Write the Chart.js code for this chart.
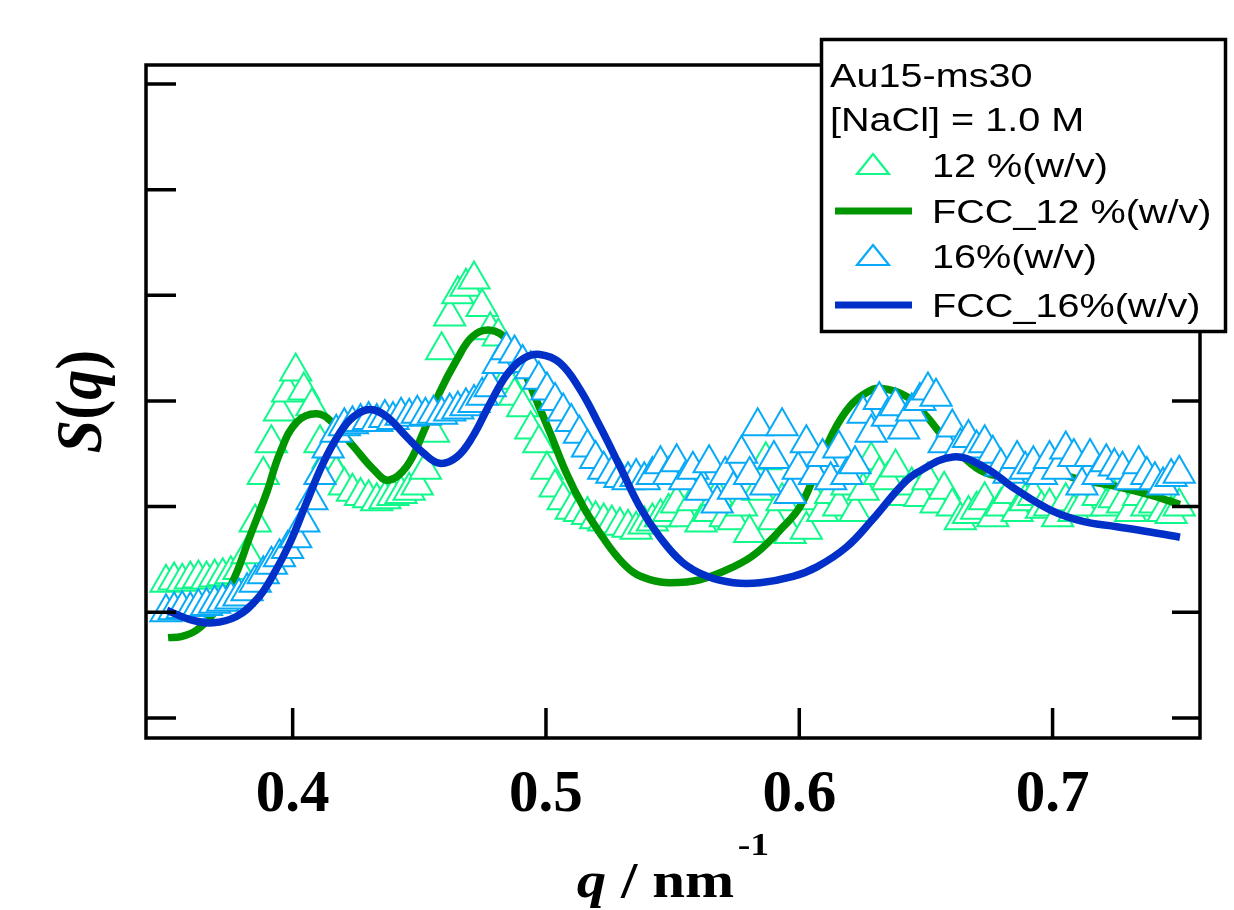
<!DOCTYPE html>
<html lang="en">
<head>
<meta charset="UTF-8" />
<title>S(q) Au15-ms30</title>
<script src="https://cdn.jsdelivr.net/npm/chart.js"></script>
<style>
  html, body { margin: 0; padding: 0; background: #fff; }
  canvas { display: block; }
</style>
</head>
<body>
<canvas id="sqChart" width="1234" height="910"></canvas>
<script>
// measured q grid (nm^-1), shared by both samples
const qVals = [
  0.3500, 0.3532, 0.3564, 0.3596, 0.3628, 0.3660, 0.3692, 0.3724, 0.3756, 0.3788,
  0.3820, 0.3852, 0.3884, 0.3916, 0.3948, 0.3980, 0.4012, 0.4044, 0.4076, 0.4108,
  0.4140, 0.4172, 0.4204, 0.4236, 0.4268, 0.4300, 0.4332, 0.4364, 0.4396, 0.4428,
  0.4460, 0.4492, 0.4524, 0.4556, 0.4588, 0.4620, 0.4652, 0.4684, 0.4716, 0.4748,
  0.4780, 0.4812, 0.4844, 0.4876, 0.4908, 0.4940, 0.4972, 0.5004, 0.5036, 0.5068,
  0.5100, 0.5132, 0.5164, 0.5196, 0.5228, 0.5260, 0.5292, 0.5324, 0.5356, 0.5388,
  0.5420, 0.5452, 0.5484, 0.5516, 0.5548, 0.5580, 0.5612, 0.5644, 0.5676, 0.5708,
  0.5740, 0.5772, 0.5804, 0.5836, 0.5868, 0.5900, 0.5932, 0.5964, 0.5996, 0.6028,
  0.6060, 0.6092, 0.6124, 0.6156, 0.6188, 0.6220, 0.6252, 0.6284, 0.6316, 0.6348,
  0.6380, 0.6412, 0.6444, 0.6476, 0.6508, 0.6540, 0.6572, 0.6604, 0.6636, 0.6668,
  0.6700, 0.6732, 0.6764, 0.6796, 0.6828, 0.6860, 0.6892, 0.6924, 0.6956, 0.6988,
  0.7020, 0.7052, 0.7084, 0.7116, 0.7148, 0.7180, 0.7212, 0.7244, 0.7276, 0.7308,
  0.7340, 0.7372, 0.7404, 0.7436, 0.7468, 0.7500
];

// S(q), 12 %(w/v)
const s12 = [
  1.28, 1.30, 1.29, 1.31, 1.32, 1.31, 1.33, 1.34, 1.36, 1.40,
  1.55, 1.85, 2.30, 2.60, 2.90, 3.08, 3.28, 3.10, 2.95, 2.60,
  2.45, 2.31, 2.20, 2.14, 2.10, 2.08, 2.05, 2.07, 2.10, 2.12,
  2.15, 2.20, 2.35, 2.70, 3.48, 3.80, 4.01, 4.08, 4.15, 3.89,
  3.67, 3.61, 3.20, 3.05, 2.94, 2.73, 2.60, 2.35, 2.18, 2.06,
  1.97, 1.95, 1.92, 1.88, 1.86, 1.84, 1.82, 1.80, 1.78, 1.83,
  1.86, 1.90, 1.95, 2.03, 1.90, 2.05, 1.85, 1.95, 2.10, 1.90,
  1.87, 2.00, 1.75, 2.15, 2.44, 1.87, 2.05, 1.74, 2.20, 1.78,
  2.06, 1.95, 2.12, 2.00, 2.20, 1.95, 2.15, 2.44, 2.30, 2.25,
  2.37, 2.10, 2.20, 2.09, 2.25, 2.03, 2.16, 2.00, 1.87, 1.93,
  1.97, 2.06, 1.90, 2.00, 2.12, 1.95, 2.05, 2.10, 1.98, 2.00,
  1.90, 2.05, 1.95, 2.00, 2.31, 2.10, 2.00, 2.08, 2.03, 1.95,
  2.10, 2.00, 2.03, 1.95, 1.93, 2.00
];

// S(q), 16 %(w/v)
const s16 = [
  1.00, 1.02, 1.03, 1.02, 1.05, 1.06, 1.08, 1.10, 1.12, 1.15,
  1.20, 1.28, 1.36, 1.45, 1.52, 1.60, 1.70, 1.85, 2.06, 2.30,
  2.55, 2.70, 2.76, 2.78, 2.80, 2.82, 2.80, 2.84, 2.82, 2.86,
  2.85, 2.88, 2.86, 2.88, 2.87, 2.90, 2.92, 2.95, 2.98, 3.05,
  3.13, 3.35, 3.48, 3.45, 3.36, 3.30, 3.20, 3.10, 3.00, 2.90,
  2.80, 2.69, 2.56, 2.45, 2.35, 2.31, 2.27, 2.25, 2.28, 2.25,
  2.30, 2.40, 2.30, 2.42, 2.25, 2.35, 2.15, 2.41, 2.03, 2.30,
  2.16, 2.50, 2.30, 2.76, 2.20, 2.45, 2.76, 2.12, 2.35, 2.60,
  2.30, 2.47, 2.25, 2.55, 2.30, 2.40, 2.88, 2.70, 3.01, 2.85,
  2.95, 2.73, 2.90, 3.00, 3.10, 3.04, 2.60, 2.75, 2.57, 2.65,
  2.55, 2.60, 2.50, 2.38, 2.31, 2.45, 2.35, 2.40, 2.30, 2.45,
  2.35, 2.54, 2.47, 2.20, 2.47, 2.30, 2.42, 2.38, 2.35, 2.25,
  2.40, 2.30, 2.25, 2.20, 2.28, 2.31
];

// FCC model curves
const fcc12Q = [0.3508, 0.3560, 0.3620, 0.3685, 0.3740, 0.3778, 0.3830, 0.3897, 0.3950, 0.4016,
                0.4095, 0.4160, 0.4240, 0.4320, 0.4377, 0.4450, 0.4515, 0.4580, 0.4648, 0.4710,
                0.4780, 0.4846, 0.4910, 0.4960, 0.5016, 0.5080, 0.5147, 0.5213, 0.5280, 0.5344,
                0.5410, 0.5490, 0.5610, 0.5740, 0.5830, 0.5937, 0.6003, 0.6070, 0.6133, 0.6200,
                0.6266, 0.6320, 0.6425, 0.6504, 0.6568, 0.6647, 0.6726, 0.6830, 0.6990, 0.7120,
                0.7254, 0.7385, 0.7503];
const fcc12S = [0.76, 0.77, 0.83, 0.98, 1.18, 1.37, 1.71, 2.13, 2.51, 2.80,
                2.88, 2.79, 2.57, 2.35, 2.25, 2.38, 2.70, 3.08, 3.39, 3.61,
                3.67, 3.58, 3.30, 3.02, 2.70, 2.32, 2.00, 1.75, 1.53, 1.38,
                1.31, 1.28, 1.31, 1.43, 1.56, 1.81, 2.00, 2.35, 2.70, 2.95,
                3.08, 3.12, 3.04, 2.85, 2.66, 2.47, 2.33, 2.28, 2.32, 2.25,
                2.19, 2.11, 2.02];

const fcc16Q = [0.3503, 0.3595, 0.3685, 0.3778, 0.3858, 0.3920, 0.3990, 0.4055, 0.4120, 0.4187,
                0.4240, 0.4305, 0.4372, 0.4450, 0.4515, 0.4580, 0.4648, 0.4710, 0.4780, 0.4846,
                0.4910, 0.4976, 0.5055, 0.5134, 0.5213, 0.5292, 0.5370, 0.5450, 0.5540, 0.5636,
                0.5740, 0.5845, 0.5976, 0.6070, 0.6188, 0.6290, 0.6400, 0.6464, 0.6607, 0.6726,
                0.6857, 0.6990, 0.7120, 0.7254, 0.7385, 0.7503];
const fcc16S = [1.02, 0.93, 0.90, 0.96, 1.12, 1.34, 1.66, 2.04, 2.41, 2.70,
                2.85, 2.92, 2.85, 2.66, 2.51, 2.41, 2.47, 2.66, 2.98, 3.25,
                3.40, 3.44, 3.36, 3.11, 2.76, 2.38, 2.00, 1.71, 1.47, 1.34,
                1.28, 1.28, 1.34, 1.43, 1.62, 1.88, 2.19, 2.32, 2.47, 2.38,
                2.16, 1.97, 1.86, 1.81, 1.76, 1.71];

const xTickVals = [0.4, 0.5, 0.6, 0.7];
const yTickVals = [0, 1, 2, 3, 4, 5, 6];
const legendHeader = ['Au15-ms30', '[NaCl] = 1.0 M'];
const seriesNames = ['12 %(w/v)', 'FCC_12 %(w/v)', '16%(w/v)', 'FCC_16%(w/v)'];

const col12 = '#10f88a';
const colFcc12 = '#009600';
const col16 = '#08aaf8';
const colFcc16 = '#0030c8';

const toPts = (xs, ys) => xs.map((x, i) => ({ x: x, y: ys[i] }));

// helpers for mixed-font text (horizontal stretch sx)
function runsWidth(ctx, runs) {
  let w = 0;
  runs.forEach(r => { ctx.font = r.font; w += ctx.measureText(r.text).width + (r.gap || 0); });
  return w;
}
function drawRuns(ctx, runs, x, y, sx) {
  ctx.save();
  ctx.translate(x, y);
  ctx.scale(sx, 1);
  let cx = 0;
  runs.forEach(r => {
    ctx.font = r.font;
    cx += (r.gap || 0);
    ctx.fillText(r.text, cx, r.dy || 0);
    cx += ctx.measureText(r.text).width;
  });
  ctx.restore();
}

const framePlugin = {
  id: 'frame',
  afterDatasetsDraw(chart) {
    const ctx = chart.ctx;
    const a = chart.chartArea;
    const xs = chart.scales.x, ys = chart.scales.y;
    ctx.save();
    ctx.strokeStyle = '#000';
    ctx.lineWidth = 3.5;
    ctx.strokeRect(a.left, a.top, a.right - a.left, a.bottom - a.top);
    ctx.beginPath();
    yTickVals.forEach(v => {
      const py = ys.getPixelForValue(v);
      ctx.moveTo(a.left, py); ctx.lineTo(a.left + 30, py);
      ctx.moveTo(a.right, py); ctx.lineTo(a.right - 28, py);
    });
    xTickVals.forEach(v => {
      const px = xs.getPixelForValue(v);
      ctx.moveTo(px, a.bottom); ctx.lineTo(px, a.bottom - 30);
    });
    ctx.stroke();
    ctx.restore();
  },
  afterDraw(chart) {
    const ctx = chart.ctx;
    const a = chart.chartArea;
    ctx.save();
    ctx.fillStyle = '#000';
    ctx.textBaseline = 'alphabetic';

    // x title: q / nm^-1
    const serif = '"Liberation Serif", "Times New Roman", serif';
    const xRuns = [
      { text: 'q', font: 'italic bold 50px ' + serif },
      { text: ' / nm', font: 'bold 50px ' + serif },
      { text: '-1', font: 'bold 32px ' + serif, dy: -42, gap: 3 }
    ];
    const sx = 1.18;
    const xw = runsWidth(ctx, xRuns) * sx;
    drawRuns(ctx, xRuns, (a.left + a.right) / 2 - xw / 2, 897, sx);

    // y title: S(q), rotated
    const yRuns = [
      { text: 'S', font: 'italic bold 60px ' + serif },
      { text: '(', font: 'bold 60px ' + serif },
      { text: 'q', font: 'italic bold 60px ' + serif },
      { text: ')', font: 'bold 60px ' + serif }
    ];
    const yw = runsWidth(ctx, yRuns);
    ctx.save();
    ctx.translate(101, (a.top + a.bottom) / 2);
    ctx.rotate(-Math.PI / 2);
    ctx.scale(1, 1.1);
    drawRuns(ctx, yRuns, -yw / 2, 0, 1);
    ctx.restore();

    // legend box
    const bx = 821.5, by = 39.5, bw = 404, bh = 292;
    ctx.fillStyle = '#fff';
    ctx.fillRect(bx, by, bw, bh);
    ctx.strokeStyle = '#000';
    ctx.lineWidth = 3.5;
    ctx.strokeRect(bx, by, bw, bh);

    ctx.fillStyle = '#000';
    const sans = '33px "Liberation Sans", Arial, sans-serif';
    drawRuns(ctx, [{ text: legendHeader[0], font: sans }], 830, 87, 1.2);
    drawRuns(ctx, [{ text: legendHeader[1], font: sans }], 830, 131, 1.2);
    const rowBase = [177, 223, 268, 317];
    const rowKinds = ['tri', 'line', 'tri', 'line'];
    const rowCols = [col12, colFcc12, col16, colFcc16];
    seriesNames.forEach((name, i) => {
      const base = rowBase[i];
      const midY = base - 12;
      if (rowKinds[i] === 'tri') {
        ctx.beginPath();
        ctx.moveTo(873, midY - 11);
        ctx.lineTo(889, midY + 9);
        ctx.lineTo(857, midY + 9);
        ctx.closePath();
        ctx.lineWidth = 2.2;
        ctx.strokeStyle = rowCols[i];
        ctx.stroke();
      } else {
        ctx.beginPath();
        ctx.moveTo(835, midY);
        ctx.lineTo(912, midY);
        ctx.lineWidth = 7;
        ctx.strokeStyle = rowCols[i];
        ctx.stroke();
      }
      ctx.fillStyle = '#000';
      drawRuns(ctx, [{ text: name, font: sans }], 932, base, 1.2);
    });
    ctx.restore();
  }
};

new Chart(document.getElementById('sqChart'), {
  type: 'scatter',
  data: {
    datasets: [
      {
        label: seriesNames[0],
        data: toPts(qVals, s12),
        pointStyle: 'triangle',
        pointRadius: 18,
        pointBorderWidth: 2,
        pointBorderColor: col12,
        pointBackgroundColor: '#fff',
        showLine: false,
        order: 4
      },
      {
        label: seriesNames[1],
        data: toPts(fcc12Q, fcc12S),
        showLine: true,
        borderColor: colFcc12,
        borderWidth: 7.5,
        pointRadius: 0,
        tension: 0.4,
        order: 3
      },
      {
        label: seriesNames[2],
        data: toPts(qVals, s16),
        pointStyle: 'triangle',
        pointRadius: 18,
        pointBorderWidth: 2,
        pointBorderColor: col16,
        pointBackgroundColor: '#fff',
        showLine: false,
        order: 2
      },
      {
        label: seriesNames[3],
        data: toPts(fcc16Q, fcc16S),
        showLine: true,
        borderColor: colFcc16,
        borderWidth: 7.5,
        pointRadius: 0,
        tension: 0.4,
        order: 1
      }
    ]
  },
  options: {
    responsive: false,
    animation: false,
    layout: { padding: { left: 0, top: 65, right: 34, bottom: 0 } },
    plugins: {
      legend: { display: false },
      tooltip: { enabled: false }
    },
    scales: {
      x: {
        type: 'linear',
        min: 0.3421,
        max: 0.7582,
        grid: { display: false, drawTicks: false },
        border: { display: false },
        afterBuildTicks: s => { s.ticks = xTickVals.map(v => ({ value: v })); },
        afterFit: s => { s.height = 172; },
        ticks: {
          autoSkip: false,
          maxRotation: 0,
          padding: 22,
          color: '#000',
          font: { family: '"Liberation Serif", "Times New Roman", serif', weight: 'bold', size: 59 },
          callback: v => v.toFixed(1)
        }
      },
      y: {
        type: 'linear',
        min: -0.19,
        max: 6.18,
        grid: { display: false, drawTicks: false },
        border: { display: false },
        afterBuildTicks: s => { s.ticks = yTickVals.map(v => ({ value: v })); },
        afterFit: s => { s.width = 146; },
        ticks: { display: false }
      }
    }
  },
  plugins: [framePlugin]
});
</script>
</body>
</html>
